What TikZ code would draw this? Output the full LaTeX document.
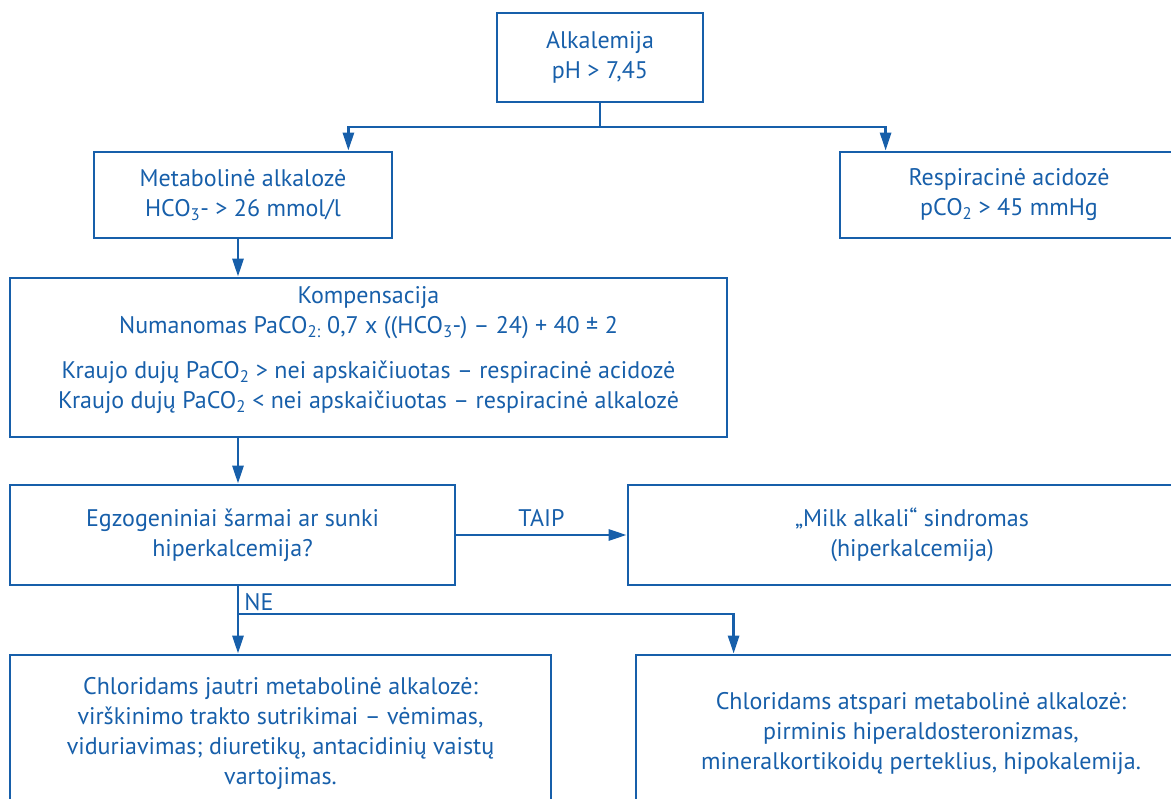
\documentclass[tikz,border=0pt]{standalone}
\usepackage{fontspec}
\setmainfont{PT Sans}
\usetikzlibrary{arrows.meta}
\definecolor{flowblue}{HTML}{175FAA}
\begin{document}
\begin{tikzpicture}[x=1pt, y=-1pt, line width=2.8pt, draw=flowblue,
  every node/.style={font=\fontsize{24}{30}\selectfont, text=flowblue, align=center},
  box/.style={draw=flowblue, rectangle, inner sep=0pt},
  arr/.style={draw=flowblue, -{Triangle[length=18pt, width=11pt]}}]
  \useasboundingbox (0,0) rectangle (1171,799);
  \clip (0,0) rectangle (1171,799);
  \node[box, minimum width=206pt, minimum height=89pt] (alk) at (600,57.5) {Alkalemija\\pH > 7,45};
  \node[box, minimum width=298pt, minimum height=86pt] (met) at (243,195) {Metabolinė alkalozė\\HCO\textsubscript{3}- > 26 mmol/l};
  \node[box, minimum width=338pt, minimum height=86pt] (resp) at (1009,195) {Respiracinė acidozė\\pCO\textsubscript{2} > 45 mmHg};
  \node[box, minimum width=717pt, minimum height=159pt] (komp) at (368.5,357.5) {};
  \node (komptext) at (368.5,350.5) {Kompensacija\\Numanomas PaCO\textsubscript{2:} 0,7 x ((HCO\textsubscript{3}-) – 24) + 40 ± 2\\[15pt]Kraujo dujų PaCO\textsubscript{2} > nei apskaičiuotas – respiracinė acidozė\\Kraujo dujų PaCO\textsubscript{2} < nei apskaičiuotas – respiracinė alkalozė};
  \node[box, minimum width=445pt, minimum height=100pt] (egz) at (232.5,535) {Egzogeniniai šarmai ar sunki\\hiperkalcemija?};
  \node[box, minimum width=568pt, minimum height=100pt] (milk) at (912,535) {„Milk alkali“ sindromas\\(hiperkalcemija)};
  \node[box, minimum width=541pt, minimum height=156pt] (jaut) at (280.5,733) {Chloridams jautri metabolinė alkalozė:\\virškinimo trakto sutrikimai – vėmimas,\\viduriavimas; diuretikų, antacidinių vaistų\\vartojimas.};
  \node[box, minimum width=570pt, minimum height=156pt] (atsp) at (921,733) {Chloridams atspari metabolinė alkalozė:\\pirminis hiperaldosteronizmas,\\mineralkortikoidų perteklius, hipokalemija.};
  % top split
  \coordinate (split) at (600,127);
  \draw (alk.south) -- (split);
  \draw[arr] (split) -| ([xshift=-45pt]met.north east);
  \draw[arr] (split) -| ([xshift=47pt]resp.north west);
  % left column
  \coordinate (col) at (238,0);
  \draw[arr] (met.south -| col) -- (komp.north -| col);
  \draw[arr] (komp.south -| col) -- (egz.north -| col);
  \draw[arr] (egz.east) -- node[above=4pt] (taip) {TAIP} (milk.west);
  \draw[arr] (egz.south -| col) -- (jaut.north -| col);
  \coordinate (nesplit) at (238,614);
  \draw[arr] (nesplit) -| ([xshift=99pt]atsp.north west);
  \node[anchor=west, inner sep=0pt] (ne) at (243,602) {NE};
\end{tikzpicture}
\end{document}
